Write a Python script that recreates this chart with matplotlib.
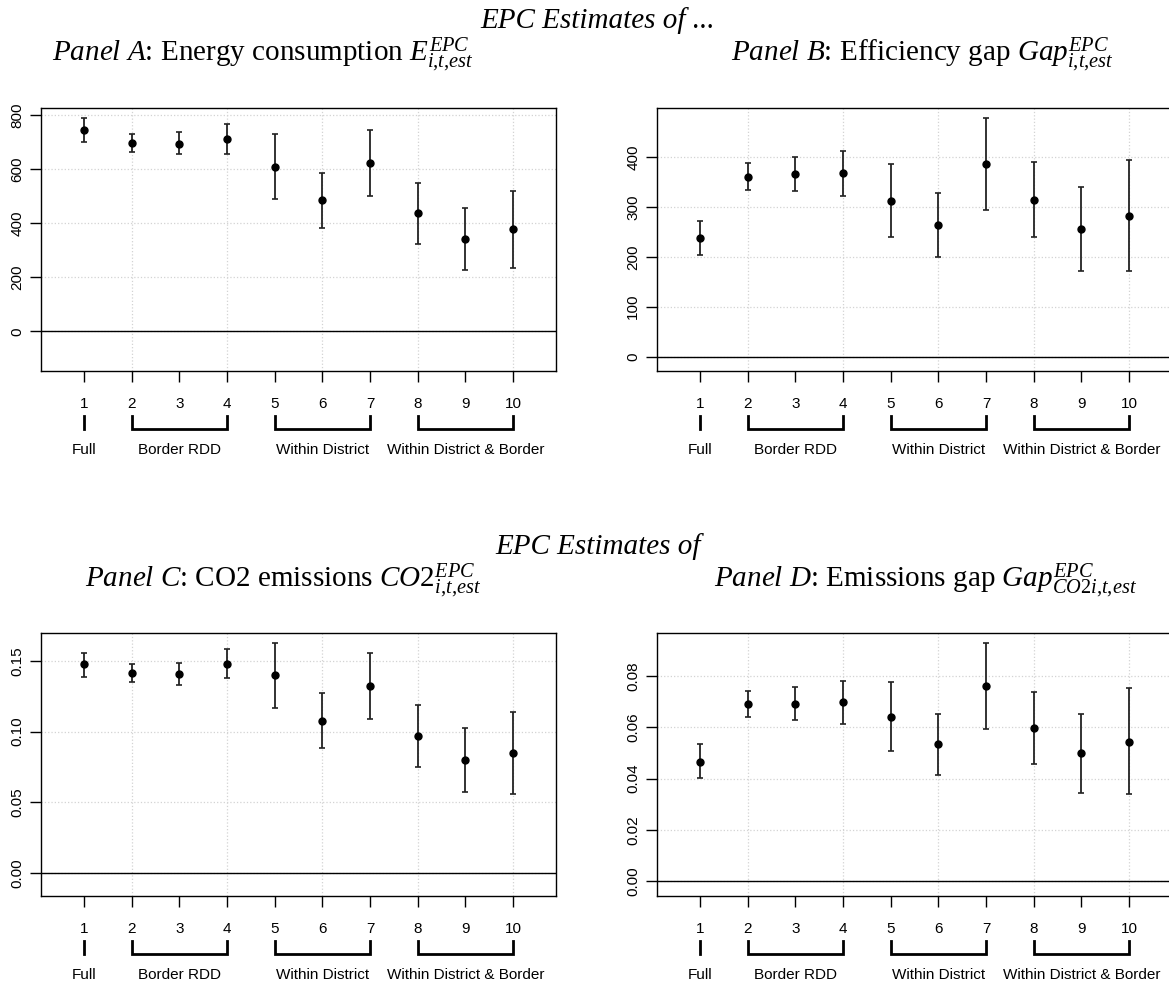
import matplotlib
matplotlib.use("Agg")
import matplotlib.pyplot as plt

plt.rcParams['font.family'] = ['Liberation Sans', 'DejaVu Sans']
plt.rcParams['mathtext.fontset'] = 'custom'
plt.rcParams['mathtext.rm'] = 'Liberation Serif'
plt.rcParams['mathtext.it'] = 'Liberation Serif:italic'

# === data ===
specs = [1, 2, 3, 4, 5, 6, 7, 8, 9, 10]

est_a = [745, 695, 694, 710, 608, 484, 623, 436, 341, 377]
lo_a = [700, 663, 654, 657, 490, 383, 500, 324, 228, 235]
hi_a = [789, 730, 736, 766, 730, 586, 746, 548, 457, 519]

est_b = [238, 361, 367, 368, 313, 264, 387, 315, 257, 283]
lo_b = [203, 334, 332, 322, 240, 200, 295, 240, 172, 172]
hi_b = [272, 389, 401, 413, 387, 328, 479, 391, 341, 394]

est_c = [0.1474, 0.1414, 0.1409, 0.1479, 0.1397, 0.1077, 0.1325, 0.0970, 0.0797, 0.0848]
lo_c = [0.1388, 0.1353, 0.1332, 0.1379, 0.1168, 0.0886, 0.1091, 0.0752, 0.0572, 0.0561]
hi_c = [0.1558, 0.1477, 0.1486, 0.1582, 0.1626, 0.1271, 0.1558, 0.1185, 0.1023, 0.1138]

est_d = [0.0466, 0.0692, 0.0692, 0.0697, 0.0639, 0.0534, 0.0762, 0.0597, 0.0498, 0.0544]
lo_d = [0.0401, 0.0640, 0.0628, 0.0613, 0.0507, 0.0416, 0.0595, 0.0458, 0.0344, 0.0339]
hi_d = [0.0533, 0.0742, 0.0755, 0.0781, 0.0775, 0.0652, 0.0930, 0.0738, 0.0653, 0.0751]

yticks_a = [0, 200, 400, 600, 800]
yticks_b = [0, 100, 200, 300, 400]
yticks_c = [0.00, 0.05, 0.10, 0.15]
yticks_d = [0.00, 0.02, 0.04, 0.06, 0.08]

groups = ["Full", "Border RDD", "Within District", "Within District & Border"]
group_spans = [(1, 1), (2, 4), (5, 7), (8, 10)]

W, H = 1169, 986
fig = plt.figure(figsize=(W / 100, H / 100), dpi=100)
fig.patch.set_facecolor('white')


def px_axes(left, right, top, bottom):
    return fig.add_axes([left / W, 1 - bottom / H, (right - left) / W, (bottom - top) / H])


def panel(ax, est, lo, hi, yticks, ylim, fmt):
    ax.set_xlim(0.1, 10.9)
    ax.set_ylim(*ylim)
    ax.set_xticks(specs)
    ax.set_xticklabels([str(s) for s in specs], fontsize=11)
    ax.set_yticks(yticks)
    ax.set_yticklabels([fmt.format(v) for v in yticks], fontsize=11,
                       rotation=90, va='center')
    ax.tick_params(axis='both', direction='out', length=8, width=1, color='black')
    ax.tick_params(axis='x', pad=11)
    ax.tick_params(axis='y', pad=4)
    for s in ax.spines.values():
        s.set_linewidth(1)
    # grid
    for gx in [2, 4, 6, 8, 10]:
        ax.axvline(gx, color='#D3D3D3', linestyle=':', linewidth=0.9, zorder=0)
    for gy in yticks:
        ax.axhline(gy, color='#D3D3D3', linestyle=':', linewidth=0.9, zorder=0)
    ax.axhline(0, color='black', linewidth=1, zorder=1)
    yerr = [[e - l for e, l in zip(est, lo)], [h - e for e, h in zip(est, hi)]]
    ax.errorbar(specs, est, yerr=yerr, fmt='o', color='black', ecolor='#222222',
                elinewidth=1.3, capsize=2.5, capthick=1.2, markersize=5, zorder=3)
    # brackets under the axis
    h_ax = ax.get_position().height * H
    y_top = -45 / h_ax
    y_bot = -58 / h_ax
    y_lab = -79 / h_ax
    tr = ax.get_xaxis_transform()
    for (a, b), name in zip(group_spans, groups):
        if a == b:
            ax.plot([a, a], [y_top, y_bot], color='black', lw=2, transform=tr,
                    clip_on=False)
        else:
            ax.plot([a, a, b, b], [y_top, y_bot, y_bot, y_top], color='black', lw=2,
                    transform=tr, clip_on=False, solid_joinstyle='miter')
        ax.text((a + b) / 2, y_lab, name, transform=tr, ha='center', va='center',
                fontsize=11)


ax_a = px_axes(41, 556, 108, 371)
panel(ax_a, est_a, lo_a, hi_a, yticks_a, (-147, 826), "{:.0f}")
ax_b = px_axes(657, 1172, 108, 371)
panel(ax_b, est_b, lo_b, hi_b, yticks_b, (-29, 499), "{:.0f}")
ax_c = px_axes(41, 556, 633, 896)
panel(ax_c, est_c, lo_c, hi_c, yticks_c, (-0.016, 0.1696), "{:.2f}")
ax_d = px_axes(657, 1172, 633, 896)
panel(ax_d, est_d, lo_d, hi_d, yticks_d, (-0.0057, 0.0967), "{:.2f}")

# titles
TS = 21
serif = 'Liberation Serif'


def ftext(x, y, s, ha='center', style='normal'):
    fig.text(x / W, 1 - y / H, s, fontsize=TS, family=serif, ha=ha,
             va='baseline', style=style)


ftext(598, 28, "EPC Estimates of ...", style='italic')
ftext(263, 62, r"$\mathit{Panel\ A}$: Energy consumption $E^{EPC}_{i{,}t{,}est}$")
ftext(922, 62, r"$\mathit{Panel\ B}$: Efficiency gap $Gap^{EPC}_{i{,}t{,}est}$")
ftext(598, 554, "EPC Estimates of", style='italic')
ftext(283, 588, r"$\mathit{Panel\ C}$: CO2 emissions $CO2^{EPC}_{i{,}t{,}est}$")
ftext(926, 588, r"$\mathit{Panel\ D}$: Emissions gap $Gap^{EPC}_{CO2i{,}t{,}est}$")

fig.savefig("out.png", dpi=100, facecolor='white')
